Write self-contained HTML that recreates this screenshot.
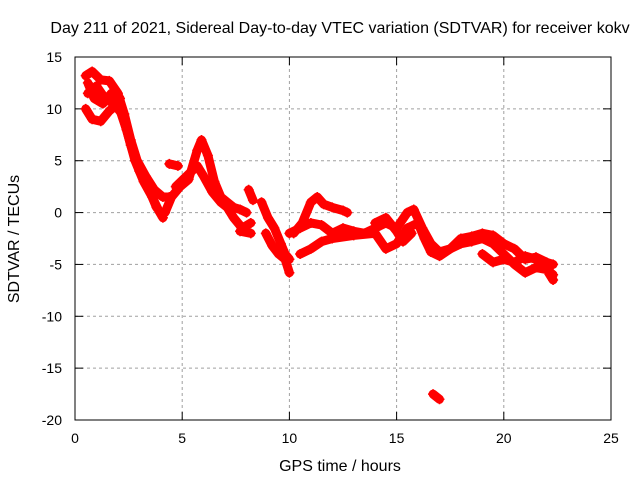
<!DOCTYPE html>
<html><head><meta charset="utf-8"><style>
body{margin:0;background:#fff}
svg{display:block;font-family:"Liberation Sans",sans-serif}
</style></head><body>
<svg id="c" width="640" height="480">
<text x="340" y="33" font-size="16" text-anchor="middle">Day 211 of 2021, Sidereal Day-to-day VTEC variation (SDTVAR) for receiver kokv</text>
<text x="340" y="471" font-size="16" text-anchor="middle">GPS time / hours</text>
<text transform="translate(19,239) rotate(-90)" font-size="16" text-anchor="middle">SDTVAR / TECUs</text>
<g id="grid"></g><g id="series"></g>
<rect x="75" y="57" width="536" height="363" fill="none" stroke="#000"/>
</svg>
<script>
const xTicks=[0,5,10,15,20,25];
const yTicks=[15,10,5,0,-5,-10,-15,-20];
const tracks=[
[[0.5,13.2],[0.8,13.6],[1.2,12.8],[1.6,12.7],[2,11.5],[2.3,9.5],[2.6,7],[2.9,5],[3.3,3.5],[3.7,2.2],[4.1,1.5],[4.4,1.5]],
[[0.5,10],[0.8,9],[1.2,8.8],[1.6,9.8],[2,10.5],[2.4,8],[2.8,5],[3.2,3],[3.6,1.5],[3.9,0.2],[4.1,-0.5]],
[[0.6,11.5],[1,12.2],[1.4,11],[1.8,10.5],[2.2,9.5],[2.6,6.5],[3,4],[3.4,2.5],[3.8,0.5]],
[[0.6,12.5],[0.9,11],[1.3,10.5],[1.7,11.5],[2.1,11]],
[[4.4,4.7],[4.8,4.5]],
[[4.2,0],[4.5,1.5],[4.9,2.5],[5.3,3.2],[5.7,6],[5.9,7],[6.2,5.5],[6.5,3],[6.8,1.5],[7.1,1],[7.4,0.5],[7.7,0.3],[8,0]],
[[4.7,2.5],[5.2,3.5],[5.7,4.5],[6,3.5],[6.4,2],[6.8,1],[7.1,0.5],[7.4,-0.5],[7.8,-1.5],[8.2,-1]],
[[7.7,-1.8],[8.2,-2]],
[[8.1,2.2],[8.3,1.2]],
[[8.7,1],[9,-0.5],[9.3,-1.5],[9.6,-3],[9.8,-4],[10,-4.5]],
[[8.9,-2],[9.2,-3.2],[9.5,-4],[9.8,-4.5],[10,-5.8]],
[[10.2,-2],[10.6,-1],[11,1],[11.3,1.5],[11.6,0.8],[12,0.5],[12.5,0.2],[12.7,0]],
[[10,-2],[10.5,-1.5],[11,-1],[11.5,-1.2],[12,-2],[12.5,-1.5],[13,-1.8],[13.5,-2],[14,-1.5],[14.5,-1],[15,-1.5],[15.5,0],[15.8,0.3],[16.2,-1.5],[16.6,-3],[17,-3.8],[17.5,-3.5],[18,-2.5],[18.5,-2.3],[19,-2],[19.5,-2.2],[20,-3],[20.5,-3.5],[21,-4.5],[21.5,-4.3],[22,-4.8],[22.3,-5]],
[[10.5,-4],[11,-3.5],[11.5,-2.8],[12,-2.5],[13,-2.2],[14,-2],[14.5,-3.5],[15,-3],[15.5,-1.5],[16,-1],[16.3,-2.5],[16.6,-3.8],[17,-4.2],[17.5,-3.5],[18,-3],[18.5,-2.8],[19,-2.5],[19.5,-3],[20,-4],[20.5,-5],[21,-5.8],[21.5,-5.3],[22,-5.5],[22.3,-6.5]],
[[14,-1],[14.5,-0.5],[15,-1.8],[15.3,-2.8],[15.7,-2]],
[[19,-4],[19.5,-4.8],[20,-4.5],[20.5,-4.8],[21,-4.2],[21.5,-4.5],[22,-5.5],[22.3,-6]],
[[16.7,-17.5],[17,-18]]
];
const NS='http://www.w3.org/2000/svg';
const X=t=>75+t*536/25, Y=v=>57+(15-v)*363/35;
const g=document.getElementById('grid'), s=document.getElementById('series');
function mk(tag,a,p){const e=document.createElementNS(NS,tag);for(const k in a)e.setAttribute(k,a[k]);p.appendChild(e);return e;}
xTicks.forEach(t=>{
 if(t>0&&t<25){const l=mk('line',{x1:X(t),x2:X(t),y1:57,y2:420,stroke:'#a0a0a0','stroke-dasharray':'3,3'},g);
 
 }
 const tx=mk('text',{x:X(t),y:443,'font-size':14,'text-anchor':'middle'},g);tx.textContent=t;
 
 
 mk('line',{x1:X(t),x2:X(t),y1:420,y2:412,stroke:'#000'},g);mk('line',{x1:X(t),x2:X(t),y1:57,y2:65,stroke:'#000'},g);
});
yTicks.forEach(v=>{
 if(v<15&&v>-20){const l=mk('line',{x1:75,x2:611,y1:Y(v),y2:Y(v),stroke:'#a0a0a0','stroke-dasharray':'3,3'},g);
 
 }
 const tx=mk('text',{x:62,y:Y(v)+5,'font-size':14,'text-anchor':'end'},g);tx.textContent=v;
 
 
 mk('line',{x1:75,x2:83,y1:Y(v),y2:Y(v),stroke:'#000'},g);mk('line',{x1:611,x2:603,y1:Y(v),y2:Y(v),stroke:'#000'},g);
});
tracks.forEach(tr=>{
 const pl=mk('polyline',{points:tr.map(p=>X(p[0])+','+Y(p[1])).join(' '),fill:'none',stroke:'#f00','stroke-width':9,'stroke-linejoin':'round','stroke-linecap':'round'},s);
 
 
 tr.forEach(p=>{const m=mk('path',{d:`M${X(p[0])-5},${Y(p[1])}h10M${X(p[0])},${Y(p[1])-5}v10`,stroke:'#f00','stroke-width':1.5},s);
 
 });
});
</script>
</body></html>
